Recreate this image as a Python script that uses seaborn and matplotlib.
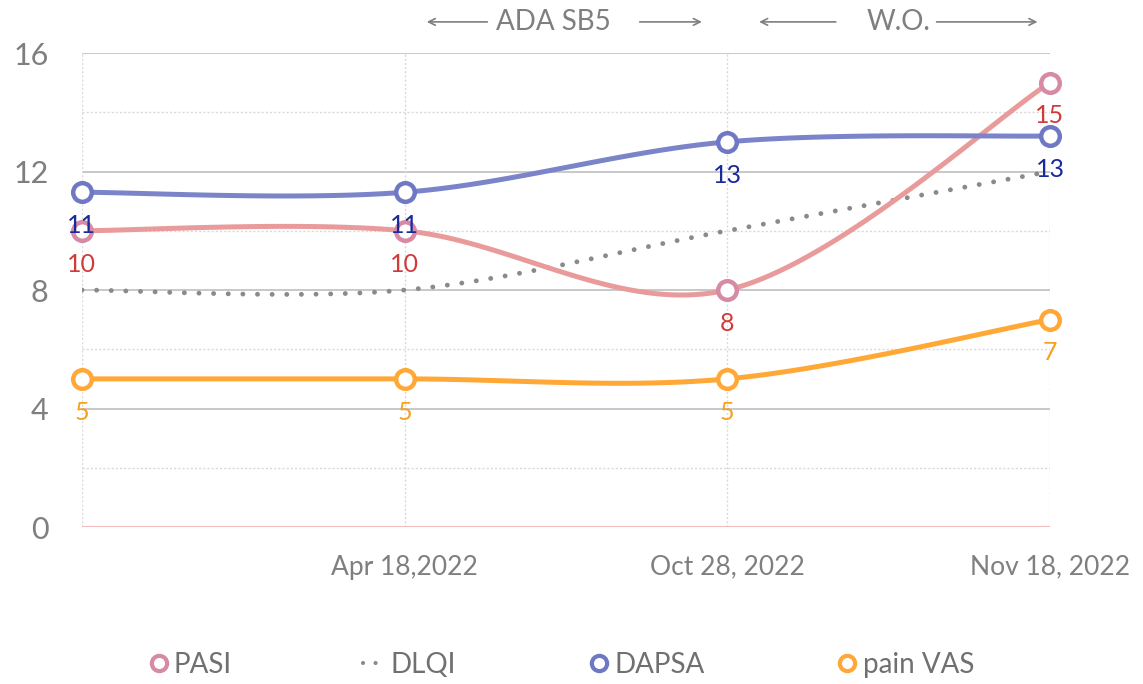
# Disease activity scores over time (PASI / DLQI / DAPSA / pain VAS)
import numpy             as np
import pandas            as pd
import matplotlib.pyplot as plt
import seaborn           as sns
from matplotlib.lines import Line2D

# data
dates       = ["", "Apr 18,2022", "Oct 28, 2022", "Nov 18, 2022"]
pasi        = [10, 10, 8, 15]
pasi_lbl    = ["10", "10", "8", "15"]
dlqi        = [8, 8, 10, 12]
dapsa       = [11.3, 11.3, 13, 13.2]
dapsa_lbl   = ["11", "11", "13", "13"]
vas         = [5, 5, 5, 7]
vas_lbl     = ["5", "5", "5", "7"]

sns.set_theme(style="white")
plt.rcParams["font.family"] = ["Lato", "DejaVu Sans"]


def smooth(xs, ys, n=40):
    # Excel-like smoothed line (bezier through the points)
    pts = np.column_stack([xs, ys]).astype(float)
    ext = np.vstack([pts[0], pts, pts[-1]])
    out = []
    t = np.linspace(0, 1, n)[:, None]
    for i in range(len(pts) - 1):
        p0, p1, p2, p3 = ext[i], ext[i + 1], ext[i + 2], ext[i + 3]
        c1 = p1 + (p2 - p0) / 6
        c2 = p2 - (p3 - p1) / 6
        seg = (1 - t) ** 3 * p1 + 3 * (1 - t) ** 2 * t * c1 + 3 * (1 - t) * t ** 2 * c2 + t ** 3 * p2
        out.append(seg if i == 0 else seg[1:])
    return np.vstack(out)


fig = plt.figure(figsize=(11.43, 6.84), dpi=100)
ax = fig.add_axes([0.0717, 0.2295, 0.8469, 0.6930])

xs = np.arange(len(dates))
grey = "#7f7f7f"

# grid
for y in [2, 6, 10, 14]:
    ax.axhline(y, color="#d9d9d9", lw=1, ls=(0, (1.5, 1.5)), zorder=0)
for y in [4, 8, 12, 16]:
    ax.axhline(y, color="#bfbfbf", lw=1.2, zorder=0)
for x in xs:
    ax.axvline(x, color="#d9d9d9", lw=1, ls=(0, (1.5, 1.5)), zorder=0)
ax.axhline(0, color="#f4bcbc", lw=1.5, zorder=0)

series = [
    ("PASI",  pasi,  pasi_lbl,  "#e99b9b", "#d68aa6", "#d03a3a"),
    ("DAPSA", dapsa, dapsa_lbl, "#7b84c9", "#6f78c4", "#1a2a9a"),
    ("pain VAS", vas, vas_lbl,  "#ffa836", "#ffa836", "#f5a020"),
]

# DLQI dotted line
cur = smooth(xs, dlqi)
sns.lineplot(x=cur[:, 0], y=cur[:, 1], sort=False, estimator=None, ax=ax,
             color="#8a8a8a", lw=3.5, ls=(0, (0.01, 3)), dash_capstyle="round",
             zorder=2)

for name, vals, lbls, lc, mc, tc in series:
    cur = smooth(xs, vals)
    sns.lineplot(x=cur[:, 0], y=cur[:, 1], sort=False, estimator=None, ax=ax,
                 color=lc, lw=3.6, zorder=3)
    sns.scatterplot(x=xs, y=vals, ax=ax, s=180, color="white", edgecolor=mc,
                    linewidth=3.2, zorder=4, clip_on=False)
    for x, v, l in zip(xs, vals, lbls):
        ax.annotate(l, (x, v), xytext=(0, -24), textcoords="offset points",
                    ha="center", va="center", fontsize=18, color=tc, zorder=5)

ax.set_xlim(0, 3)
ax.set_ylim(0, 16)
ax.set_yticks([0, 4, 8, 12, 16])
ax.set_xticks(xs)
ax.set_xticklabels(dates)
ax.tick_params(axis="y", labelsize=22, colors=grey, pad=24, length=0)
ax.tick_params(axis="x", labelsize=19, colors=grey, pad=20, length=0)
ax.set_xlabel("")
ax.set_ylabel("")
for s in ax.spines.values():
    s.set_visible(False)

# treatment period notes above the plot
ytop = 17.05
for cx, txt, l0, l1, r0, r1 in [(1.46, "ADA SB5", 1.06, 1.265, 1.72, 1.93),
                                 (2.53, "W.O.", 2.09, 2.345, 2.64, 2.97)]:
    ax.text(cx, ytop, txt, ha="center", va="center", fontsize=20, color=grey,
            clip_on=False)
    ax.annotate("", xy=(l0, ytop), xytext=(l1, ytop), annotation_clip=False,
                arrowprops=dict(arrowstyle="->", color=grey, lw=1.2))
    ax.annotate("", xy=(r1, ytop), xytext=(r0, ytop), annotation_clip=False,
                arrowprops=dict(arrowstyle="->", color=grey, lw=1.2))

handles = [
    Line2D([], [], marker="o", ls="none", mfc="white", mec="#d68aa6", mew=3, ms=11),
    Line2D([], [], color="#8a8a8a", lw=3, ls=(0, (0.01, 3)), dash_capstyle="round"),
    Line2D([], [], marker="o", ls="none", mfc="white", mec="#6f78c4", mew=3, ms=11),
    Line2D([], [], marker="o", ls="none", mfc="white", mec="#ffa836", mew=3, ms=11),
]
fig.legend(handles, ["PASI", "DLQI", "DAPSA", "pain VAS"], loc="center",
           bbox_to_anchor=(0.49, 0.028), ncol=4, frameon=False, fontsize=20,
           labelcolor="#707070", handlelength=0.9, handletextpad=0.1,
           columnspacing=4.7)

fig.savefig("out.png", dpi=100)
